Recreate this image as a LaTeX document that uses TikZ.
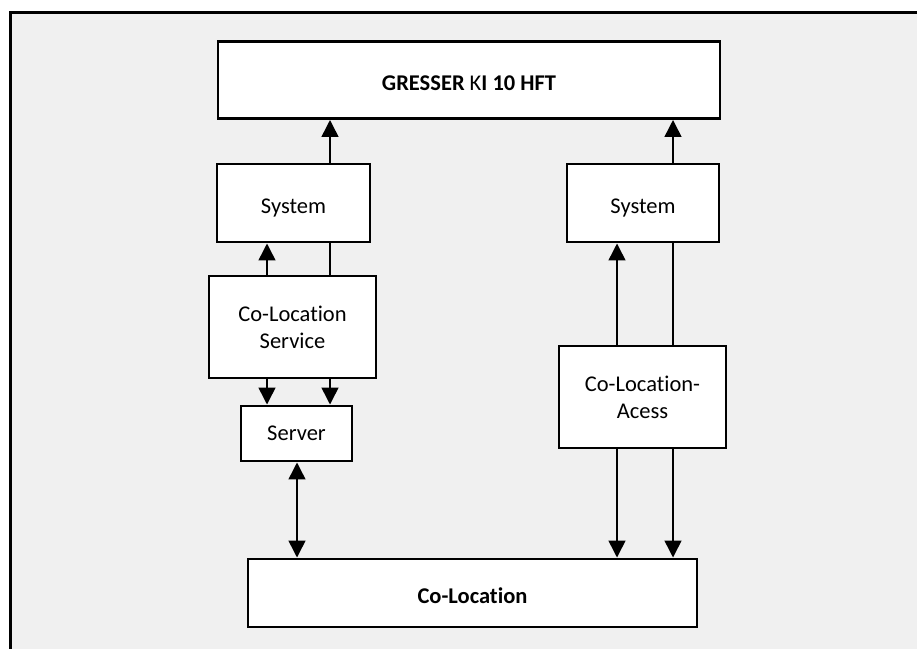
\documentclass[tikz,border=0pt]{standalone}
\usepackage{fontspec}
\setmainfont[Ligatures=NoCommon]{Carlito}
\usetikzlibrary{arrows.meta}
\definecolor{panel}{HTML}{F0F0F0}
\begin{document}
\begin{tikzpicture}[x=1pt,y=-1pt,
  box/.style={draw, line width=2.8pt, fill=white, rectangle, inner sep=0pt,
              align=center, font=\fontsize{22.5}{27}\selectfont},
  oneline/.style={text height=21.5pt, text depth=0pt},
  tipA/.tip={Triangle[length=17pt,width=16.5pt]},
  arr/.style={line width=2.8pt, -tipA},
  dbl/.style={line width=2.8pt, tipA-tipA},
  link/.style={line width=2.8pt}]

% page and panel
\useasboundingbox (0,0) rectangle (917,648);
\clip (0,0) rectangle (917,648);
\fill[white] (0,0) rectangle (917,648);
\draw[line width=3pt, fill=panel] (10.5,12.5) rectangle (940,680);

% boxes
\node[box, oneline, minimum width=502pt, minimum height=77pt] (top) at (469,80)
  {\textbf{GRESSER} K\textbf{I 10 HFT}};
\node[box, oneline, minimum width=153pt, minimum height=78pt] (sysL) at (293.5,203) {System};
\node[box, minimum width=167pt, minimum height=102pt] (svc) at (292.5,327) {Co-Location\\Service};
\node[box, minimum width=111pt, minimum height=55pt] (srv) at (296.5,433.5) {Server};
\node[box, oneline, minimum width=449pt, minimum height=68pt] (col) at (472.5,593) {\textbf{Co-Location}};
\node[box, oneline, minimum width=152pt, minimum height=78pt] (sysR) at (643,203) {System};
\node[box, minimum width=167pt, minimum height=102pt] (acc) at (642.5,397) {Co-Location-\\Acess};

% vertical guide positions
\coordinate (xa) at (267,0);
\coordinate (xb) at (330,0);
\coordinate (xc) at (297,0);
\coordinate (xd) at (617,0);
\coordinate (xe) at (673,0);

% left column
\draw[arr] (sysL.north -| xb) -- (top.south -| xb);
\draw[arr] (svc.north -| xa) -- (sysL.south -| xa);
\draw[link] (svc.north -| xb) -- (sysL.south -| xb);
\draw[arr] (svc.south -| xa) -- (srv.north -| xa);
\draw[arr] (svc.south -| xb) -- (srv.north -| xb);
\draw[dbl] (srv.south -| xc) -- (col.north -| xc);

% right column
\draw[arr] (sysR.north -| xe) -- (top.south -| xe);
\draw[arr] (acc.north -| xd) -- (sysR.south -| xd);
\draw[link] (acc.north -| xe) -- (sysR.south -| xe);
\draw[arr] (acc.south -| xd) -- (col.north -| xd);
\draw[arr] (acc.south -| xe) -- (col.north -| xe);
\end{tikzpicture}
\end{document}
